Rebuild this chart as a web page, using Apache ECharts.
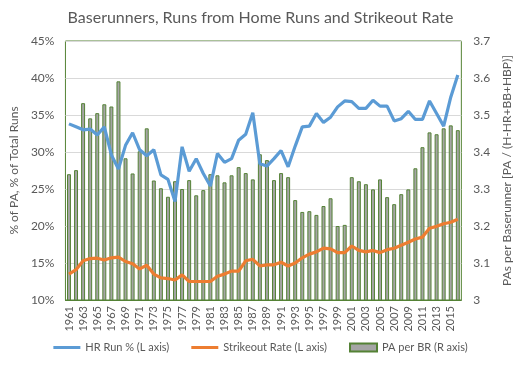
<!DOCTYPE html>
<html>
<head>
<meta charset="utf-8">
<script src="https://cdn.jsdelivr.net/npm/echarts@6/dist/echarts.min.js"></script>
<style>html,body{margin:0;padding:0;background:#fff;}#c{width:521px;height:367px;}</style>
</head>
<body>
<div id="c"></div>
<script>
var years = [];
for (var y = 1961; y <= 2016; y++) years.push(String(y));

var hrRunPct = [33.8,33.4,33.0,33.1,32.3,33.4,29.6,27.7,30.9,32.6,30.3,29.5,30.3,26.9,26.3,
  23.3,30.7,27.4,29.1,27.1,25.4,29.8,28.6,29.1,31.6,32.4,35.3,28.4,28.1,29.1,
  30.2,28.0,30.8,33.4,33.5,35.2,34.0,34.7,36.1,36.9,36.8,35.9,35.9,37.0,36.2,
  36.2,34.2,34.5,35.5,34.4,34.4,36.9,35.2,33.5,37.4,40.4];

var strikeoutRate = [13.5,14.1,15.3,15.6,15.65,15.4,15.7,15.8,15.2,14.9,14.2,14.7,13.5,13.0,12.9,
  12.7,13.4,12.5,12.5,12.5,12.5,13.2,13.5,13.9,13.9,15.3,15.5,14.6,14.75,14.75,
  15.1,14.6,15.0,15.7,16.2,16.5,17.0,16.9,16.4,16.4,17.3,16.7,16.5,16.7,16.4,
  16.8,17.0,17.4,17.8,18.25,18.5,19.7,19.95,20.3,20.5,20.9];

var paPerBR = [3.340,3.351,3.532,3.491,3.505,3.529,3.523,3.591,3.383,3.342,3.402,3.464,3.323,3.302,3.279,
  3.321,3.300,3.324,3.283,3.297,3.340,3.337,3.318,3.337,3.359,3.343,3.326,3.394,3.378,3.324,
  3.343,3.332,3.270,3.238,3.240,3.230,3.254,3.275,3.200,3.203,3.332,3.321,3.313,3.299,3.326,
  3.278,3.259,3.286,3.299,3.356,3.413,3.453,3.448,3.464,3.472,3.459];

var seriesNames = ['HR Run % (L axis)', 'Strikeout Rate (L axis)', 'PA per BR (R axis)'];

var FONT = 'Lato';
var TXT = '#595959';
var LINE_ICON = 'path://M0,0H27V3H0Z';
var chart = echarts.init(document.getElementById('c'), null, {renderer: 'canvas'});
chart.setOption({
  animation: false,
  backgroundColor: '#fff',
  textStyle: {fontFamily: FONT},
  title: {
    text: 'Baserunners, Runs from Home Runs and Strikeout Rate',
    left: 'center', top: 5,
    textStyle: {fontFamily: FONT, fontSize: 16, fontWeight: 'normal', color: TXT}
  },
  legend: {
    bottom: 9, left: 'center',
    itemWidth: 27, itemHeight: 8, itemGap: 22,
    textStyle: {fontFamily: FONT, fontSize: 11, color: TXT},
    data: [
      {name: seriesNames[0], icon: LINE_ICON},
      {name: seriesNames[1], icon: LINE_ICON},
      {name: seriesNames[2], icon: 'rect'}
    ]
  },
  grid: {left: 54, right: 50, top: 41, bottom: 67, show: true, borderColor: '#548235', borderWidth: 1},
  xAxis: {
    type: 'category', data: years, boundaryGap: true,
    axisLine: {show: true, lineStyle: {color: '#548235'}},
    axisTick: {show: false},
    axisLabel: {interval: 1, rotate: 90, fontSize: 11, color: TXT, fontFamily: FONT, margin: 6}
  },
  yAxis: [{
    type: 'value', min: 10, max: 45, interval: 5,
    name: '% of PA, % of Total Runs', nameLocation: 'middle', nameGap: 39, nameRotate: 90,
    nameTextStyle: {fontFamily: FONT, fontSize: 12, color: TXT},
    axisLabel: {formatter: '{value}%', fontSize: 12, color: TXT, fontFamily: FONT, margin: 11},
    axisLine: {show: false}, axisTick: {show: false},
    splitLine: {lineStyle: {color: '#d9d9d9'}}
  }, {
    type: 'value', min: 3, max: 3.7, interval: 0.1,
    name: 'PAs per Baserunner [PA / (H-HR+BB+HBP)]', nameLocation: 'middle', nameGap: 32, nameRotate: 90,
    nameTextStyle: {fontFamily: FONT, fontSize: 12, color: TXT},
    axisLabel: {formatter: function (v) { return String(Math.round(v * 10) / 10); }, fontSize: 12, color: TXT, fontFamily: FONT, margin: 12},
    axisLine: {show: false}, axisTick: {show: false},
    splitLine: {show: false}
  }],
  series: [{
    name: seriesNames[2], type: 'bar', yAxisIndex: 1, data: paPerBR,
    barWidth: '56%',
    itemStyle: {color: '#a5a5a5', borderColor: '#548235', borderWidth: 1}
  }, {
    name: seriesNames[0], type: 'line', yAxisIndex: 0, data: hrRunPct,
    symbol: 'none', lineStyle: {color: '#5b9bd5', width: 3.2}, itemStyle: {color: '#5b9bd5'}
  }, {
    name: seriesNames[1], type: 'line', yAxisIndex: 0, data: strikeoutRate,
    symbol: 'none', lineStyle: {color: '#ed7d31', width: 3.2}, itemStyle: {color: '#ed7d31'}
  }]
});
</script>
</body>
</html>
